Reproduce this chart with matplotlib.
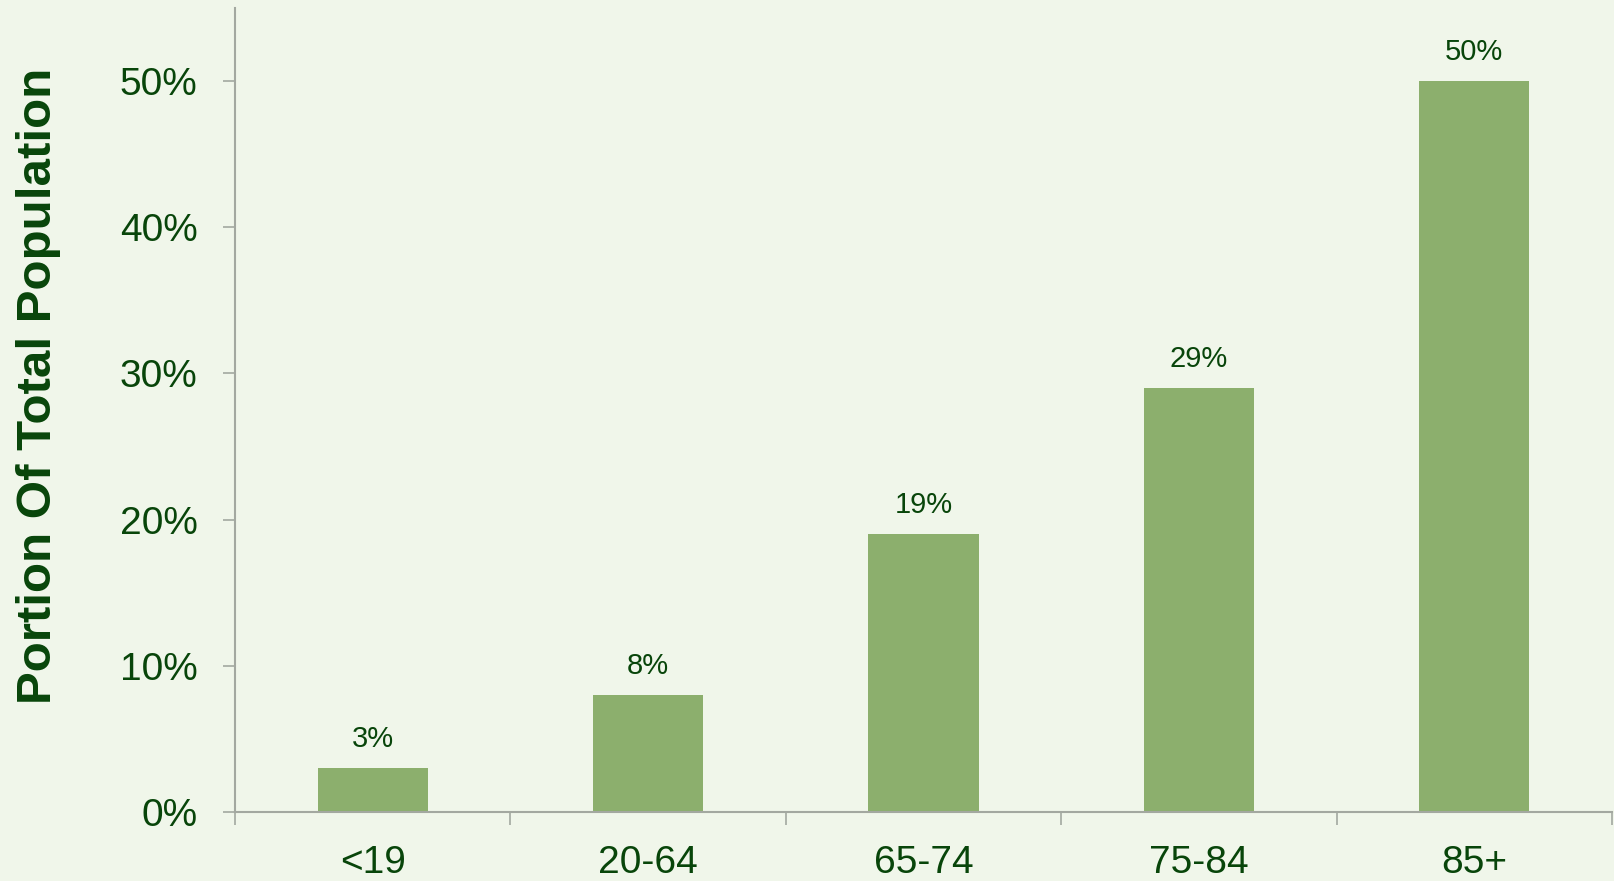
import matplotlib.pyplot as plt
from matplotlib.ticker import FixedLocator, FuncFormatter

plt.rcParams['font.family'] = ['Liberation Sans', 'DejaVu Sans']

# Share of each age group in the total population
age_groups = ['<19', '20-64', '65-74', '75-84', '85+']
portion = [0.03, 0.08, 0.19, 0.29, 0.50]
bar_labels = ['3%', '8%', '19%', '29%', '50%']

bg = '#F0F6EA'
bar_color = '#8CAF6D'
text_color = '#08450A'
axis_color = '#A3A8A0'

fig = plt.figure(figsize=(16.14, 8.81), dpi=100, facecolor=bg)
ax = fig.add_axes([0.1456, 0.0783, 0.8532, 0.9126], facecolor=bg)

x = range(len(age_groups))
bars = ax.bar(x, portion, width=0.4, color=bar_color, zorder=2)
for rect, lab in zip(bars, bar_labels):
    ax.annotate(lab, (rect.get_x() + rect.get_width() / 2, rect.get_height()),
                xytext=(0, 11), textcoords='offset points',
                ha='center', va='bottom', fontsize=21, color=text_color)

ax.set_xlim(-0.5, len(age_groups) - 0.5)
ax.set_ylim(0, 0.55)

# category boundaries get the tick marks, centres get the labels
ax.xaxis.set_major_locator(FixedLocator([i - 0.5 for i in range(len(age_groups) + 1)]))
ax.xaxis.set_major_formatter(FuncFormatter(lambda v, p: ''))
ax.xaxis.set_minor_locator(FixedLocator(list(x)))
ax.set_xticks(list(x), age_groups, minor=True)
ax.tick_params(axis='x', which='major', length=9, width=1.2, color=axis_color, direction='out')
ax.tick_params(axis='x', which='minor', length=0, pad=24, labelsize=28, labelcolor=text_color)

ax.set_yticks([0, 0.1, 0.2, 0.3, 0.4, 0.5])
ax.yaxis.set_major_formatter(FuncFormatter(lambda v, p: f'{v * 100:.0f}%'))
ax.tick_params(axis='y', length=9, width=1.2, color=axis_color, pad=18,
               labelsize=28, labelcolor=text_color)

for side in ['top', 'right']:
    ax.spines[side].set_visible(False)
for side in ['left', 'bottom']:
    ax.spines[side].set_color(axis_color)
    ax.spines[side].set_linewidth(1.5)

fig.text(0.024, 0.562, 'Portion Of Total Population', rotation=90,
         ha='center', va='center', fontsize=35.5, fontweight='bold', color=text_color)

fig.savefig('out.png', dpi=100, facecolor=bg)
